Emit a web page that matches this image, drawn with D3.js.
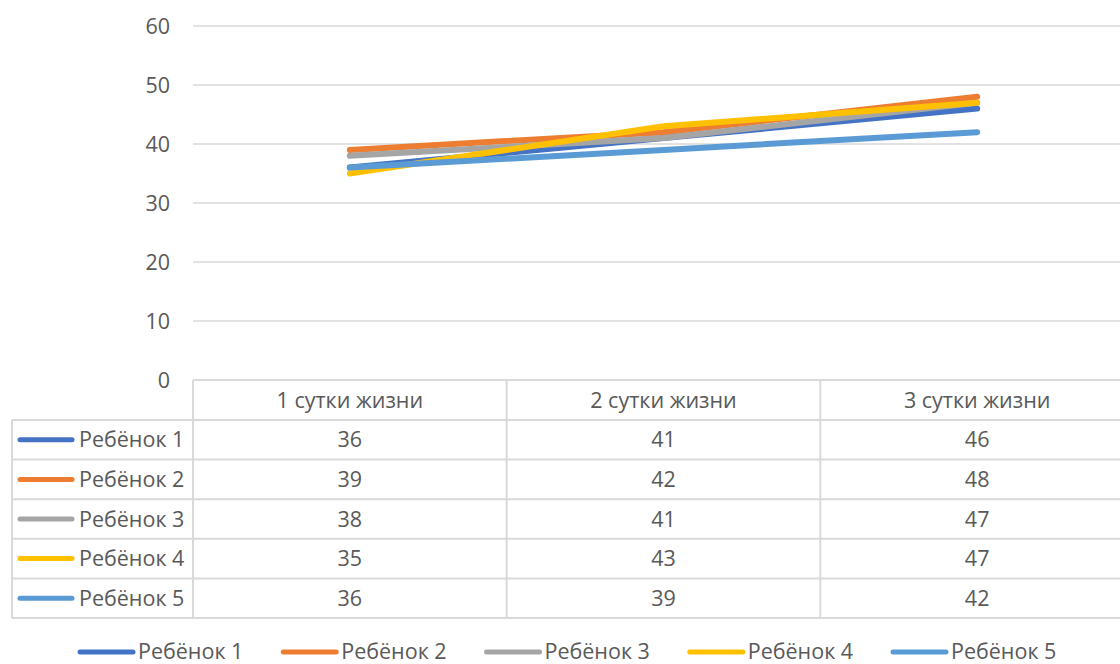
<!DOCTYPE html>
<html>
<head>
<meta charset="utf-8">
<script src="https://cdn.jsdelivr.net/npm/d3@7/dist/d3.min.js"></script>
<style>
  html, body { margin: 0; padding: 0; background: #fff; }
  svg { display: block; }
  text { font-family: "Open Sans", "Noto Sans", sans-serif; fill: #595959; }
</style>
</head>
<body>
<svg id="chart" width="1120" height="664"></svg>
<script>
// Days of life (columns of the data table / x categories)
const categories = ["1 сутки жизни", "2 сутки жизни", "3 сутки жизни"];
// Series names
const seriesNames = ["Ребёнок 1", "Ребёнок 2", "Ребёнок 3", "Ребёнок 4", "Ребёнок 5"];
// Values per series, one per day
const child1 = [36, 41, 46];
const child2 = [39, 42, 48];
const child3 = [38, 41, 47];
const child4 = [35, 43, 47];
const child5 = [36, 39, 42];
const yTicks = [0, 10, 20, 30, 40, 50, 60];
const colors = ["#4472C4", "#ED7D31", "#A5A5A5", "#FFC000", "#5B9BD5"];

const seriesValues = [child1, child2, child3, child4, child5];
const series = seriesNames.map((name, i) => ({ name, values: seriesValues[i], color: colors[i] }));

const svg = d3.select("#chart");
const W = 1120;
const FS = 21.5;

const plotLeft = 193, plotRight = 1134;
const y = d3.scaleLinear().domain([0, 60]).range([380, 26]);
const x = d3.scaleBand().domain(categories).range([plotLeft, plotRight]);

const grid = "#D9D9D9";

// Horizontal gridlines
svg.append("g").selectAll("line").data(yTicks.filter(t => t > 0)).join("line")
  .attr("x1", plotLeft).attr("x2", W)
  .attr("y1", d => y(d)).attr("y2", d => y(d))
  .attr("stroke", grid).attr("stroke-width", 1.5);

// Y axis labels
const yAxis = d3.axisLeft(y).tickValues(yTicks).tickSize(0).tickPadding(0);
const gy = svg.append("g").attr("transform", "translate(170,0)").call(yAxis);
gy.select(".domain").remove();
gy.selectAll("text").attr("font-size", FS).attr("font-family", "Open Sans, sans-serif")
  .attr("fill", "#595959").attr("dy", "0.34em");

// Data table
const tableLeft = 12, tableTop = 380, headerH = 40, rowH = 39.6;
const rowsY = d3.scaleLinear().domain([0, 1]).range([tableTop + headerH, tableTop + headerH + rowH]);
const tableBottom = rowsY(series.length);
const tbl = svg.append("g");

// Horizontal borders
tbl.append("line").attr("x1", plotLeft).attr("x2", W).attr("y1", tableTop).attr("y2", tableTop)
  .attr("stroke", grid).attr("stroke-width", 2);
d3.range(series.length + 1).forEach(i => {
  tbl.append("line").attr("x1", tableLeft).attr("x2", W)
    .attr("y1", rowsY(i)).attr("y2", rowsY(i))
    .attr("stroke", grid).attr("stroke-width", 2);
});
// Vertical borders
tbl.append("line").attr("x1", tableLeft).attr("x2", tableLeft)
  .attr("y1", rowsY(0)).attr("y2", tableBottom).attr("stroke", grid).attr("stroke-width", 2);
categories.forEach(c => {
  tbl.append("line").attr("x1", x(c)).attr("x2", x(c))
    .attr("y1", tableTop).attr("y2", tableBottom).attr("stroke", grid).attr("stroke-width", 2);
});

// Header labels
tbl.selectAll("text.head").data(categories).join("text").attr("class", "head")
  .attr("x", d => x(d) + x.bandwidth() / 2).attr("y", tableTop + headerH / 2)
  .attr("dy", "0.35em").attr("text-anchor", "middle").attr("font-size", FS)
  .text(d => d);

// Rows: legend key + values
series.forEach((s, i) => {
  const cy = rowsY(i) + rowH / 2;
  tbl.append("line").attr("x1", 20).attr("x2", 72).attr("y1", cy).attr("y2", cy)
    .attr("stroke", s.color).attr("stroke-width", 5).attr("stroke-linecap", "round");
  tbl.append("text").attr("x", 79).attr("y", cy).attr("dy", "0.35em")
    .attr("font-size", FS).text(s.name);
  categories.forEach((c, j) => {
    tbl.append("text").attr("x", x(c) + x.bandwidth() / 2).attr("y", cy).attr("dy", "0.35em")
      .attr("text-anchor", "middle").attr("font-size", FS).text(s.values[j]);
  });
});

// Lines
const line = d3.line().x((d, i) => x(categories[i]) + x.bandwidth() / 2).y(d => y(d));
svg.append("g").selectAll("path").data(series).join("path")
  .attr("d", d => line(d.values))
  .attr("fill", "none").attr("stroke", d => d.color)
  .attr("stroke-width", 6).attr("stroke-linecap", "round").attr("stroke-linejoin", "round");

// Bottom legend
const legendX = d3.scalePoint().domain(seriesNames).range([78, 891]);
const lg = svg.append("g").selectAll("g").data(series).join("g")
  .attr("transform", d => `translate(${legendX(d.name)},651)`);
lg.append("line").attr("x1", 2).attr("x2", 55).attr("y1", 1).attr("y2", 1)
  .attr("stroke", d => d.color).attr("stroke-width", 5).attr("stroke-linecap", "round");
lg.append("text").attr("x", 60).attr("y", 0).attr("dy", "0.35em").attr("font-size", FS)
  .text(d => d.name);
</script>
</body>
</html>
